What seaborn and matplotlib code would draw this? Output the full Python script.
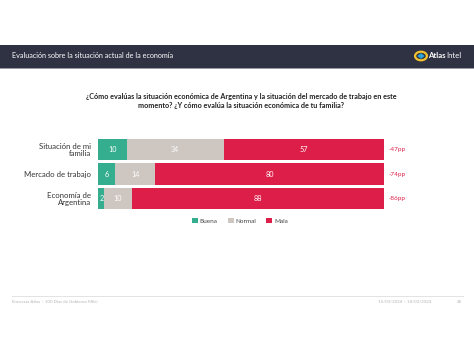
import matplotlib
matplotlib.use("Agg")
import matplotlib.pyplot as plt
import seaborn as sns
import pandas as pd
import numpy as np
from matplotlib.patches import Rectangle, Circle, RegularPolygon, Patch

categories = ["Situación de mi\nfamilia", "Mercado de trabajo", "Economía de\nArgentina"]
buena = [10, 6, 2]
normal = [34, 14, 10]
mala = [57, 80, 88]
diffs = ["-47pp", "-74pp", "-86pp"]
series_names = ["Buena", "Normal", "Mala"]
colors = ["#35ad8f", "#cdc6c1", "#dc1e48"]

sns.set_theme(style="white")
plt.rcParams["font.family"] = ["Lato", "DejaVu Sans"]

fig = plt.figure(figsize=(4.74, 3.42), dpi=100)
fig.patch.set_facecolor("white")

# header band
fig.add_artist(Rectangle((0, 1 - 68/342), 1, 23/342, transform=fig.transFigure,
                         facecolor="#2f3243", edgecolor="none"))
fig.add_artist(Rectangle((0, 1 - 69/342), 1, 1.2/342, transform=fig.transFigure,
                         facecolor="#9a9ca3", edgecolor="none"))
fig.text(12/474, 1 - 56/342, "Evaluación sobre la situación actual de la economía",
         color="white", fontsize=5.2, va="center", ha="left")
# logo
fig.add_artist(Circle((421/474, 1 - 56/342), radius=0.0125, transform=fig.transFigure,
                      facecolor="#2f3243", edgecolor="#f2c230", linewidth=1.6))
fig.add_artist(RegularPolygon((421/474, 1 - 56/342), numVertices=4, radius=0.008,
                              transform=fig.transFigure, facecolor="#2aa7d8",
                              edgecolor="none"))
t_atlas = fig.text(428/474, 1 - 56/342, "Atlas", color="white", fontsize=5.6,
                   fontweight="bold", va="center", ha="left")
fig.canvas.draw()
ext = t_atlas.get_window_extent(renderer=fig.canvas.get_renderer())
x_end = ext.x1 / fig.bbox.width
fig.text(x_end + 0.3/474, 1 - 56/342, "Intel", color="white", fontsize=5.6,
         va="center", ha="left")

# question
fig.text(241/474, 1 - 101/342,
         "¿Cómo evalúas la situación económica de Argentina y la situación del mercado de trabajo en este\nmomento? ¿Y cómo evalúa la situación económica de tu familia?",
         ha="center", va="center", fontsize=5.2, fontweight="bold", color="#222222",
         linespacing=1.3)

ax = fig.add_axes([98/474, 1 - 211/342, 286/474, 74/342])

df = pd.DataFrame({"cat": categories, "Buena": buena, "Normal": normal, "Mala": mala})
df["c_buena"] = df["Buena"]
df["c_normal"] = df["Buena"] + df["Normal"]
df["c_mala"] = df["c_normal"] + df["Mala"]

for col, c in [("c_mala", colors[2]), ("c_normal", colors[1]), ("c_buena", colors[0])]:
    sns.barplot(data=df, x=col, y="cat", orient="h", color=c, width=0.86,
                ax=ax, saturation=1, edgecolor="none")

ax.set_xlim(0, 100)
ax.set_ylim(2.5, -0.5)
ax.set_xlabel("")
ax.set_ylabel("")
ax.set_xticks([])
for s in ax.spines.values():
    s.set_visible(False)
ax.tick_params(axis="y", length=0, pad=5, labelsize=5.6, labelcolor="#333333")
for lbl in ax.get_yticklabels():
    lbl.set_horizontalalignment("right")
    lbl.set_multialignment("right")
    lbl.set_linespacing(1.0)

for i in range(len(categories)):
    b, n, m = buena[i], normal[i], mala[i]
    ax.text(b / 2 if b > 3 else b / 2 + 0.3, i, str(b), ha="center", va="center",
            color="white", fontsize=5.2)
    ax.text(b + n / 2, i, str(n), ha="center", va="center", color="white", fontsize=5.2)
    ax.text(b + n + m / 2 if b + n + m <= 100 else b + n + (100 - b - n) / 2, i, str(m),
            ha="center", va="center", color="white", fontsize=5.2)
    ax.text(101.5, i, diffs[i], ha="left", va="center", color="#dc1e48", fontsize=4.6,
            clip_on=False)

# legend
handles = [Patch(facecolor=c, edgecolor="none") for c in colors]
fig.legend(handles, series_names, loc="center", bbox_to_anchor=(240/474, 1 - 221/342),
           ncol=3, frameon=False, fontsize=4.6, handlelength=0.9, handleheight=0.9,
           handletextpad=0.3, columnspacing=1.6, labelcolor="#444444")

# footer
fig.add_artist(Rectangle((12/474, 1 - 297/342), 452/474, 0.6/342, transform=fig.transFigure,
                         facecolor="#e3e3e3", edgecolor="none"))
fig.text(12/474, 1 - 302/342, "Encuesta Atlas – 100 Días de Gobierno Milei", fontsize=3.2,
         color="#b5b5b5", va="center", ha="left")
fig.text(378/474, 1 - 302/342, "15/03/2024 – 18/03/2024", fontsize=3.2,
         color="#b5b5b5", va="center", ha="left")
fig.text(462/474, 1 - 302/342, "28", fontsize=3.2, color="#b5b5b5", va="center", ha="right")

fig.savefig("out.png", dpi=100, facecolor="white")
